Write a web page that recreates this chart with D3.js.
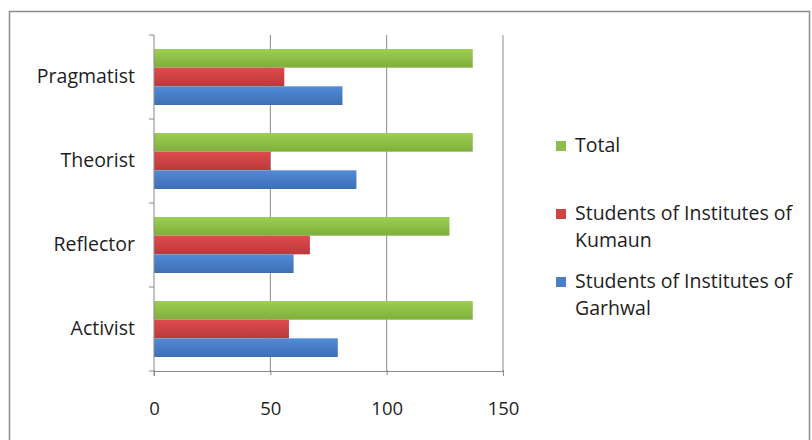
<!DOCTYPE html>
<html>
<head>
<meta charset="utf-8">
<script src="https://cdn.jsdelivr.net/npm/d3@7"></script>
<style>
  body { margin: 0; background: #fff; }
  svg { display: block; font-family: "Open Sans", "Noto Sans", sans-serif; }
</style>
</head>
<body>
<svg id="svg" width="812" height="440"></svg>
<script>
// data
let categories = ["Pragmatist", "Theorist", "Reflector", "Activist"]
let garhwal = [81, 87, 60, 79]
let kumaun = [56, 50, 67, 58]
let total = [137, 137, 127, 137]
let xTicks = [0, 50, 100, 150]

// series order inside each group: top to bottom
let seriesNames = ["Total", "Students of Institutes of Kumaun", "Students of Institutes of Garhwal"]
let seriesValues = [total, kumaun, garhwal]
let colors = ["#8fbd4a", "#cd4446", "#4a7fc6"]
let darks = ["#7fae3c", "#b93a3c", "#3d6fb4"]

let svg = d3.select("#svg"),
    width = 812,
    height = 440;

// outer chart border
svg.append("rect")
    .attr("x", 9.5).attr("y", 11.5)
    .attr("width", 800).attr("height", 440)
    .attr("fill", "none")
    .attr("stroke", "#8c8c8c")
    .attr("stroke-width", 1.5);

let plot = { left: 154, top: 35, right: 503, bottom: 371 };

let xScale = d3.scaleLinear()
    .domain([0, 150])
    .range([plot.left, plot.right]);

let yScale = d3.scaleBand()
    .domain(categories)
    .range([plot.top, plot.bottom]);

// Excel gap width 150%: 3 bars + 1.5 bar gap per band
let barH = yScale.bandwidth() / 4.5;

// gradients
let defs = svg.append("defs");
colors.forEach(function (c, i) {
  let g = defs.append("linearGradient")
      .attr("id", "grad" + i)
      .attr("x1", 0).attr("y1", 0).attr("x2", 0).attr("y2", 1);
  g.append("stop").attr("offset", "0%").attr("stop-color", d3.color(c).brighter(0.25));
  g.append("stop").attr("offset", "100%").attr("stop-color", darks[i]);
});

// vertical gridlines
svg.append("g")
    .selectAll("line")
    .data(xTicks.slice(1))
    .enter().append("line")
    .attr("x1", d => xScale(d)).attr("x2", d => xScale(d))
    .attr("y1", plot.top).attr("y2", plot.bottom)
    .attr("stroke", "#8a8a8a")
    .attr("stroke-width", 1);

// bars
seriesValues.forEach(function (vals, s) {
  svg.append("g")
    .selectAll("rect")
    .data(categories)
    .enter().append("rect")
    .attr("x", xScale(0))
    .attr("y", (d) => yScale(d) + barH * 0.75 + s * barH)
    .attr("width", (d, i) => xScale(vals[i]) - xScale(0))
    .attr("height", barH)
    .attr("fill", "url(#grad" + s + ")");
});

// x axis
let xAxis = svg.append("g")
    .attr("transform", "translate(0," + plot.bottom + ")")
    .call(d3.axisBottom(xScale).tickValues(xTicks).tickSize(5).tickPadding(26));
xAxis.select(".domain").attr("stroke", "#8a8a8a");
xAxis.selectAll(".tick line").attr("stroke", "#8a8a8a").attr("transform", "translate(0,-1)");
xAxis.selectAll("text").attr("font-size", 18.5).attr("fill", "#1e1e1e")
    .attr("font-family", "Open Sans, sans-serif");

// y axis
let yTicks = d3.range(categories.length + 1).map(i => plot.top + i * yScale.step());
let yAxisG = svg.append("g");
yAxisG.append("line")
    .attr("x1", plot.left).attr("x2", plot.left)
    .attr("y1", plot.top).attr("y2", plot.bottom + 5)
    .attr("stroke", "#8a8a8a");
yAxisG.selectAll(".yt")
    .data(yTicks)
    .enter().append("line")
    .attr("x1", plot.left - 5).attr("x2", plot.left)
    .attr("y1", d => d).attr("y2", d => d)
    .attr("stroke", "#8a8a8a");
yAxisG.selectAll("text")
    .data(categories)
    .enter().append("text")
    .attr("x", 135)
    .attr("y", d => yScale(d) + yScale.bandwidth() / 2 - 1)
    .attr("dy", "0.35em")
    .attr("text-anchor", "end")
    .attr("font-size", 19.5)
    .attr("fill", "#1e1e1e")
    .text(d => d);

// legend
let legendItems = [
  { lines: ["Total"], y: 145 },
  { lines: ["Students of Institutes of", "Kumaun"], y: 213 },
  { lines: ["Students of Institutes of", "Garhwal"], y: 281 }
];
let legend = svg.append("g");
legendItems.forEach(function (item, i) {
  legend.append("rect")
    .attr("x", 556).attr("y", item.y - 4)
    .attr("width", 10).attr("height", 10)
    .attr("fill", colors[i]);
  item.lines.forEach(function (t, j) {
    legend.append("text")
      .attr("x", 575)
      .attr("y", item.y + j * 27)
      .attr("dy", "0.35em")
      .attr("font-size", 19.5)
      .attr("fill", "#1e1e1e")
      .text(t);
  });
});
</script>
</body>
</html>
